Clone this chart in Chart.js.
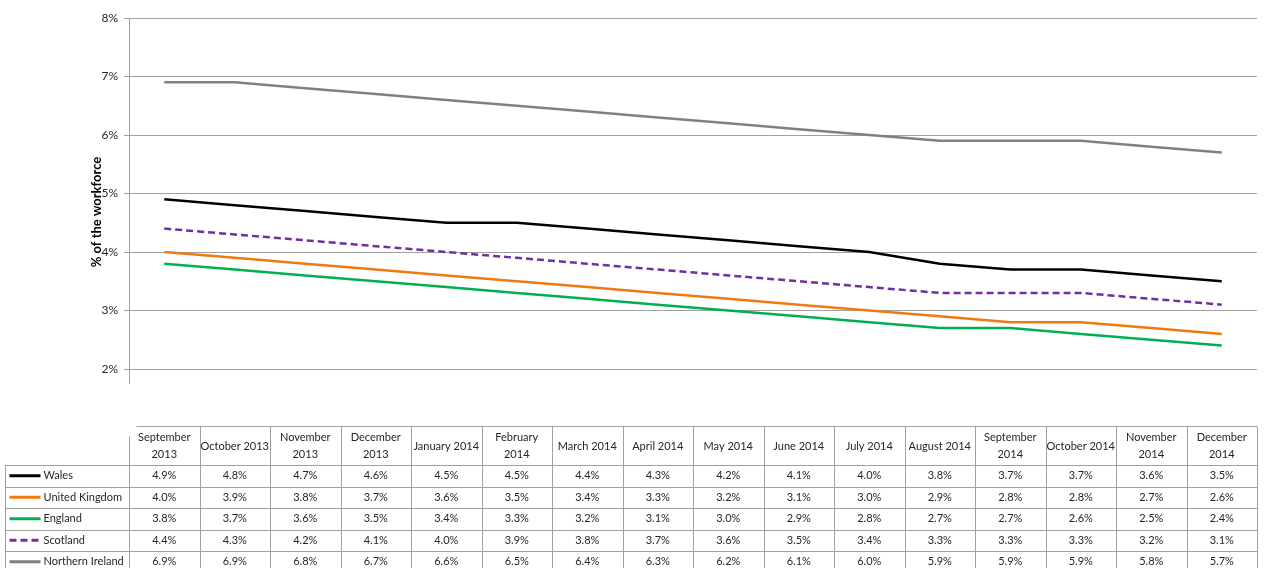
<!DOCTYPE html>
<html>
<head>
<meta charset="utf-8">
<script src="https://cdn.jsdelivr.net/npm/chart.js@4"></script>
<style>
  html, body { margin: 0; padding: 0; background: #fff; }
  #wrap { width: 1271px; height: 568px; }
</style>
</head>
<body>
<div id="wrap"><canvas id="chart" width="1271" height="568"></canvas></div>
<script>
// Months shown as table column headers (arrays wrap onto two lines)
const months = [
  ['September', '2013'], 'October 2013', ['November', '2013'], ['December', '2013'],
  'January 2014', ['February', '2014'], 'March 2014', 'April 2014', 'May 2014',
  'June 2014', 'July 2014', 'August 2014', ['September', '2014'], 'October 2014',
  ['November', '2014'], ['December', '2014']
];

// Unemployment rate, % of the workforce
const wales          = [4.9, 4.8, 4.7, 4.6, 4.5, 4.5, 4.4, 4.3, 4.2, 4.1, 4.0, 3.8, 3.7, 3.7, 3.6, 3.5];
const unitedKingdom  = [4.0, 3.9, 3.8, 3.7, 3.6, 3.5, 3.4, 3.3, 3.2, 3.1, 3.0, 2.9, 2.8, 2.8, 2.7, 2.6];
const england        = [3.8, 3.7, 3.6, 3.5, 3.4, 3.3, 3.2, 3.1, 3.0, 2.9, 2.8, 2.7, 2.7, 2.6, 2.5, 2.4];
const scotland       = [4.4, 4.3, 4.2, 4.1, 4.0, 3.9, 3.8, 3.7, 3.6, 3.5, 3.4, 3.3, 3.3, 3.3, 3.2, 3.1];
const northernIreland= [6.9, 6.9, 6.8, 6.7, 6.6, 6.5, 6.4, 6.3, 6.2, 6.1, 6.0, 5.9, 5.9, 5.9, 5.8, 5.7];

// Y axis ticks
const yTicks = [2, 3, 4, 5, 6, 7, 8];
const yTitle = '% of the workforce';

const FONT = 'Lato, "Liberation Sans", sans-serif';
const GRID = '#a0a0a0';
const TEXT = '#262626';

// Draws the axis title and the data table (legend keys + values) under the plot
const dataTablePlugin = {
  id: 'dataTable',
  afterDraw(chart, args, opts) {
    const ctx = chart.ctx;
    const xs = chart.scales.x;
    const ys = chart.scales.y;
    const n = chart.data.labels.length;
    const half = (xs.getPixelForValue(1) - xs.getPixelForValue(0)) / 2;
    const left = Math.round(xs.getPixelForValue(0) - half) + 0.5;
    const right = Math.round(xs.getPixelForValue(n - 1) + half) + 0.5;
    const bounds = [];
    for (let i = 0; i <= n; i++) {
      bounds.push(Math.round(xs.getPixelForValue(0) - half + i * half * 2) + 0.5);
    }
    const H = chart.height;
    const datasets = chart.data.datasets;
    const rowTops = datasets.map((d, i) => opts.headBottom + i * opts.rowH);

    ctx.save();

    // rotated y axis title
    ctx.save();
    ctx.translate(opts.titleX, opts.titleY);
    ctx.rotate(-Math.PI / 2);
    ctx.fillStyle = '#000';
    ctx.font = 'bold 13px ' + FONT;
    ctx.textAlign = 'center';
    ctx.textBaseline = 'middle';
    ctx.fillText(yTitle, 0, 0);
    ctx.restore();

    ctx.strokeStyle = GRID;
    ctx.lineWidth = 1;

    // y axis continues a little below the lowest gridline
    ctx.beginPath();
    ctx.moveTo(left, ys.bottom);
    ctx.lineTo(left, opts.axisEnd);
    ctx.stroke();

    // table grid
    ctx.beginPath();
    ctx.moveTo(left + 7, opts.headTop);
    ctx.lineTo(right, opts.headTop);
    ctx.moveTo(left, opts.headTop + 10);
    ctx.lineTo(left, H);
    for (let i = 1; i <= n; i++) {
      ctx.moveTo(bounds[i], opts.headTop);
      ctx.lineTo(bounds[i], H);
    }
    ctx.moveTo(opts.legendLeft, opts.headBottom);
    ctx.lineTo(opts.legendLeft, H);
    for (let r = 0; r <= datasets.length; r++) {
      const yy = Math.round(opts.headBottom + r * opts.rowH) + 0.5;
      ctx.moveTo(opts.legendLeft, yy);
      ctx.lineTo(right, yy);
    }
    ctx.stroke();

    // header labels
    ctx.fillStyle = TEXT;
    ctx.font = '11px ' + FONT;
    ctx.textAlign = 'center';
    ctx.textBaseline = 'middle';
    const headMid = (opts.headTop + opts.headBottom) / 2;
    chart.data.labels.forEach((lab, i) => {
      const cx = xs.getPixelForValue(i);
      if (Array.isArray(lab)) {
        ctx.fillText(lab[0], cx, headMid - 8);
        ctx.fillText(lab[1], cx, headMid + 9);
      } else {
        ctx.fillText(lab, cx, headMid + 1);
      }
    });

    // rows: legend key + values
    datasets.forEach((ds, r) => {
      const cy = rowTops[r] + opts.rowH / 2;
      ctx.save();
      ctx.strokeStyle = ds.borderColor;
      ctx.lineWidth = 3;
      ctx.setLineDash(ds.borderDash || []);
      ctx.beginPath();
      ctx.moveTo(opts.legendLeft + 4, cy);
      ctx.lineTo(opts.legendLeft + 35, cy);
      ctx.stroke();
      ctx.restore();

      ctx.fillStyle = TEXT;
      ctx.textAlign = 'left';
      ctx.fillText(ds.label, opts.legendLeft + 38, cy);
      ctx.textAlign = 'center';
      ds.data.forEach((v, i) => {
        ctx.fillText(v.toFixed(1) + '%', xs.getPixelForValue(i), cy);
      });
    });
    ctx.restore();
  }
};

new Chart(document.getElementById('chart'), {
  type: 'line',
  data: {
    labels: months,
    datasets: [
      { label: 'Wales', data: wales, borderColor: '#000000' },
      { label: 'United Kingdom', data: unitedKingdom, borderColor: '#F07A12' },
      { label: 'England', data: england, borderColor: '#00B050' },
      { label: 'Scotland', data: scotland, borderColor: '#7030A0', borderDash: [7, 4] },
      { label: 'Northern Ireland', data: northernIreland, borderColor: '#808080' }
    ].map(d => Object.assign({ borderWidth: 2.5, pointRadius: 0, tension: 0, fill: false }, d))
  },
  options: {
    responsive: false,
    animation: false,
    layout: { padding: { top: 18, bottom: 199, left: 0, right: 14 } },
    plugins: {
      legend: { display: false },
      tooltip: { enabled: false },
      dataTable: {
        headTop: 426.5, headBottom: 465, rowH: 21.5, legendLeft: 5.5, axisEnd: 384,
        titleX: 97, titleY: 212
      }
    },
    scales: {
      x: {
        type: 'category',
        display: false,
        offset: true
      },
      y: {
        min: 2,
        max: 8,
        afterBuildTicks: s => { s.ticks = yTicks.map(v => ({ value: v })); },
        afterFit: s => { s.width = 129; },
        ticks: {
          padding: 6,
          color: TEXT,
          font: { family: FONT, size: 12 },
          callback: v => v + '%'
        },
        grid: { color: GRID, lineWidth: 1, tickLength: 5 },
        border: { color: GRID, width: 1 }
      }
    }
  },
  plugins: [dataTablePlugin]
});
</script>
</body>
</html>
